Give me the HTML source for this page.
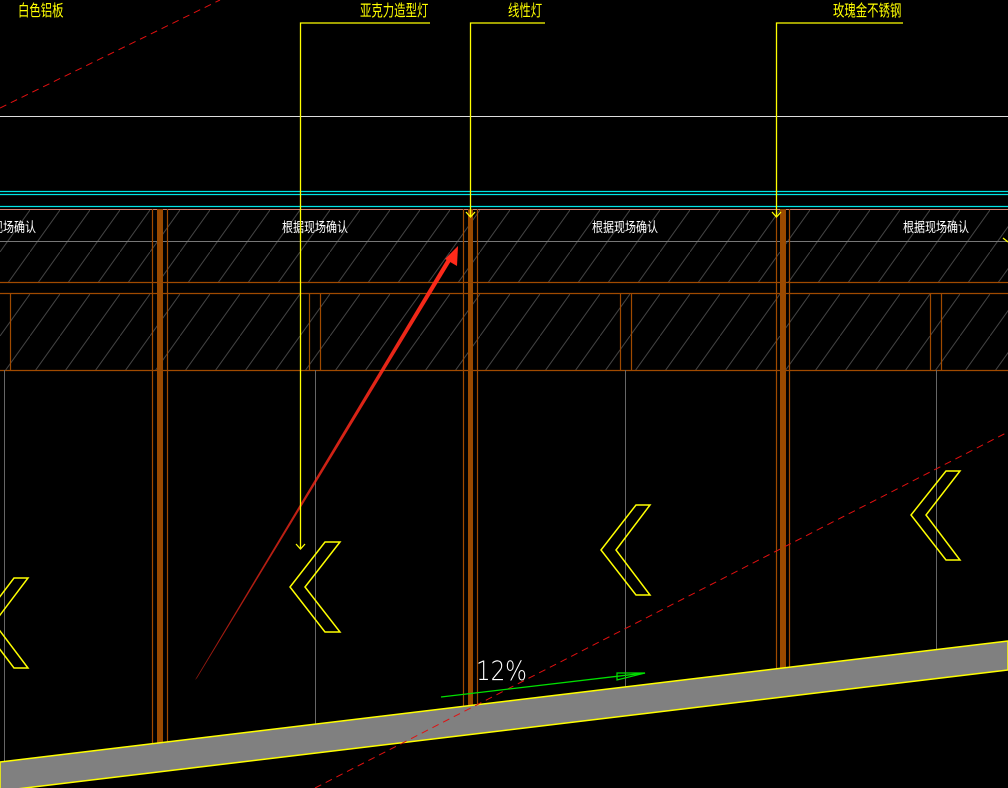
<!DOCTYPE html>
<html><head><meta charset="utf-8"><style>
html,body{margin:0;padding:0;background:#000;width:1008px;height:788px;overflow:hidden}
svg{display:block}
.t{font-family:"Liberation Sans","WenQuanYi Zen Hei","Noto Sans CJK SC",sans-serif}
</style></head><body>
<svg width="1008" height="788" viewBox="0 0 1008 788" xmlns="http://www.w3.org/2000/svg">
<defs>
<pattern id="h" width="30" height="42" patternUnits="userSpaceOnUse">
<line x1="0" y1="42" x2="30" y2="0" stroke="#444" stroke-width="1"/>
</pattern>
<linearGradient id="rg" x1="195" y1="680" x2="452" y2="257" gradientUnits="userSpaceOnUse">
<stop offset="0" stop-color="#ff2a1a" stop-opacity="0.6"/><stop offset="1" stop-color="#ff2a1a"/>
</linearGradient>
</defs>
<rect width="1008" height="788" fill="#000"/>
<rect x="0" y="209" width="1008" height="161" fill="url(#h)"/>
<rect x="0" y="282" width="1008" height="11" fill="#000"/>
<line x1="0" y1="116.5" x2="1008" y2="116.5" stroke="#ddd" stroke-width="1"/>
<line x1="0" y1="191.5" x2="1008" y2="191.5" stroke="#00e5e5" stroke-width="1.3"/>
<line x1="0" y1="194.5" x2="1008" y2="194.5" stroke="#00e5e5" stroke-width="1.3"/>
<line x1="0" y1="206.5" x2="1008" y2="206.5" stroke="#00e5e5" stroke-width="1.3"/>
<line x1="0" y1="209.5" x2="1008" y2="209.5" stroke="#d88070" stroke-width="1"/>
<line x1="0" y1="241.5" x2="1008" y2="241.5" stroke="#777" stroke-width="1"/>
<line x1="0" y1="282.5" x2="1008" y2="282.5" stroke="#a04a00" stroke-width="1.2"/>
<line x1="0" y1="293.5" x2="1008" y2="293.5" stroke="#a04a00" stroke-width="1.2"/>
<line x1="0" y1="370.5" x2="1008" y2="370.5" stroke="#a04a00" stroke-width="1.2"/>
<g stroke="#a04a00" stroke-width="1.2">
<line x1="10.5" y1="293" x2="10.5" y2="370"/>
<line x1="309.5" y1="293" x2="309.5" y2="370"/><line x1="320.5" y1="293" x2="320.5" y2="370"/>
<line x1="620.5" y1="293" x2="620.5" y2="370"/><line x1="631.5" y1="293" x2="631.5" y2="370"/>
<line x1="930.5" y1="293" x2="930.5" y2="370"/><line x1="941.5" y1="293" x2="941.5" y2="370"/>
</g>
<g stroke="#666" stroke-width="1">
<line x1="4.5" y1="370" x2="4.5" y2="770"/>
<line x1="315.5" y1="370" x2="315.5" y2="724"/>
<line x1="625.5" y1="370" x2="625.5" y2="687"/>
<line x1="936.5" y1="370" x2="936.5" y2="650"/>
</g>
<g stroke="#a04a00" stroke-width="1.2" fill="none">
<line x1="152.5" y1="209" x2="152.5" y2="745"/><line x1="167.5" y1="209" x2="167.5" y2="743"/>
<line x1="463.5" y1="209" x2="463.5" y2="708"/><line x1="477.5" y1="209" x2="477.5" y2="706"/>
<line x1="776.5" y1="209" x2="776.5" y2="670"/><line x1="789.5" y1="209" x2="789.5" y2="668"/>
</g>
<rect x="157" y="209" width="6" height="536" fill="#9a4a00"/>
<rect x="468" y="209" width="5" height="498" fill="#9a4a00"/>
<rect x="780" y="209" width="6" height="461" fill="#9a4a00"/>
<g class="t" fill="#fff" font-size="11" text-anchor="middle">
<text transform="translate(315,232) scale(1,1.25)">根据现场确认</text>
<text transform="translate(625,232) scale(1,1.25)">根据现场确认</text>
<text transform="translate(936,232) scale(1,1.25)">根据现场确认</text>
<text transform="translate(14,232) scale(1,1.25)">现场确认</text>
</g>
<polygon points="0,762 1008,641 1008,670 0,791" fill="#808080" stroke="#ffff00" stroke-width="1.5"/>
<line x1="0" y1="108" x2="220" y2="0" stroke="#e01010" stroke-width="1" stroke-dasharray="7,5"/>
<line x1="315" y1="788" x2="1008" y2="432" stroke="#e01010" stroke-width="1" stroke-dasharray="7,5"/>
<polygon points="195,680 197,678 454,256 450,254" fill="url(#rg)"/>
<polygon points="458,246 457,266 445,259" fill="#ff2a1a"/>
<line x1="441" y1="697" x2="645" y2="673" stroke="#00e000" stroke-width="1.3"/>
<polygon points="617,673 645,673 617,680" fill="none" stroke="#00e000" stroke-width="1.2"/>
<text x="476" y="680" fill="#fff" font-size="27" font-family="DejaVu Sans,sans-serif" font-weight="200" transform="translate(476,0) scale(0.85,1) translate(-476,0)">12%</text>
<g fill="none" stroke="#ffff00" stroke-width="1.5">
<polygon points="325,542 340,542 305,587 340,632 325,632 290,587"/>
<polygon points="636,505 650,505 616,550 650,595 636,595 601,550"/>
<polygon points="946,471 960,471 926,515 960,560 946,560 911,515"/>
<polygon points="14,578 28,578 -6,623 28,668 14,668 -20,623"/>
</g>
<g stroke="#ffff00" stroke-width="1.3" fill="none">
<polyline points="430,23 300.5,23 300.5,548"/>
<polyline points="296,544 300.5,549 305,544"/>
<polyline points="545,23 470.5,23 470.5,216"/>
<polyline points="466,212 470.5,217 475,212"/>
<polyline points="903,23 776.5,23 776.5,216"/>
<polyline points="772,212 776.5,217 781,212"/>
</g>
<g class="t" fill="#ffff00" font-size="12">
<text transform="translate(360,16) scale(0.95,1.35)">亚克力造型灯</text>
<text transform="translate(508,16) scale(0.95,1.35)">线性灯</text>
<text transform="translate(833,16) scale(0.95,1.35)">玫瑰金不锈钢</text>
<text transform="translate(18,16) scale(0.95,1.35)">白色铝板</text>
</g>
<line x1="1003" y1="238" x2="1008" y2="242" stroke="#ffff00" stroke-width="1.3"/>
</svg>
</body></html>
